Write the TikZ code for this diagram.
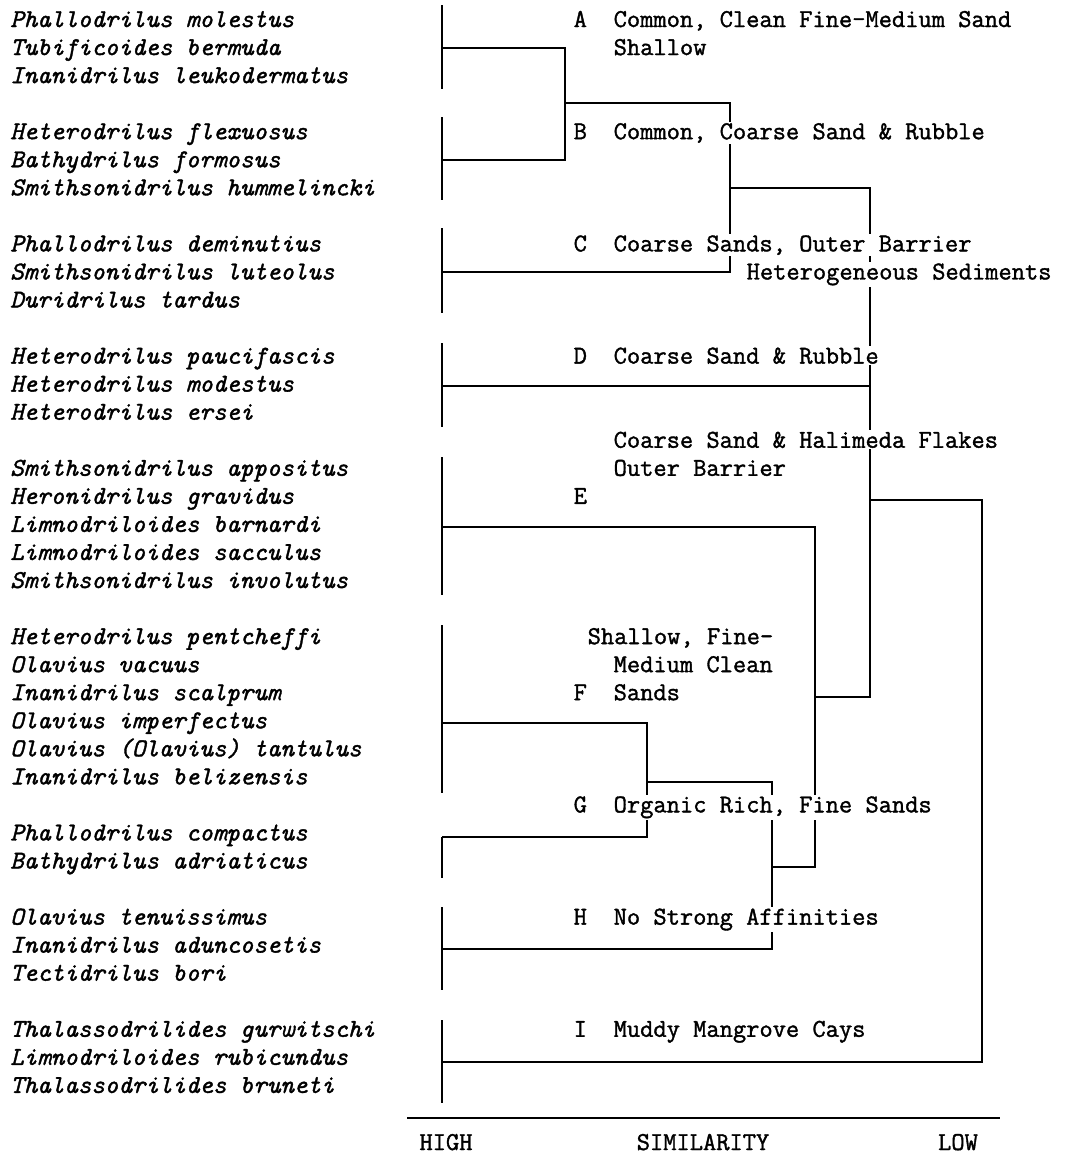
\documentclass[tikz,border=0pt]{standalone}
\usepackage{fontspec}
\newfontfamily\typefont{Latin Modern Mono}[FakeBold=1.4]
\usepackage{tikz}
\usetikzlibrary{positioning}

\tikzset{
    species/.style={anchor=base west, inner sep=0pt,
        font=\typefont\itshape\fontsize{18.3}{22}\selectfont},
    habitat/.style={anchor=base west, inner sep=1pt, fill=white,
        font=\typefont\fontsize{18.3}{22}\selectfont},
    link/.style={line width=1.4pt},
}

\begin{document}
\begin{tikzpicture}[x=0.025cm, y=-0.025cm]
    \useasboundingbox (0,0) rectangle (1078,1160);

    % Species list (line index / name)
    \foreach \i/\sp in {0/Phallodrilus molestus, 1/Tubificoides bermuda,
        2/Inanidrilus leukodermatus, 4/Heterodrilus flexuosus,
        5/Bathydrilus formosus, 6/Smithsonidrilus hummelincki,
        8/Phallodrilus deminutius, 9/Smithsonidrilus luteolus,
        10/Duridrilus tardus, 12/Heterodrilus paucifascis,
        13/Heterodrilus modestus, 14/Heterodrilus ersei,
        16/Smithsonidrilus appositus, 17/Heronidrilus gravidus,
        18/Limnodriloides barnardi, 19/Limnodriloides sacculus,
        20/Smithsonidrilus involutus, 22/Heterodrilus pentcheffi,
        23/Olavius vacuus, 24/Inanidrilus scalprum,
        25/Olavius imperfectus, 26/Olavius (Olavius) tantulus,
        27/Inanidrilus belizensis, 29/Phallodrilus compactus,
        30/Bathydrilus adriaticus, 32/Olavius tenuissimus,
        33/Inanidrilus aduncosetis, 34/Tectidrilus bori,
        36/Thalassodrilides gurwitschi, 37/Limnodriloides rubicundus,
        38/Thalassodrilides bruneti}
        \node[species] (sp\i) at (10, {27+28.05*\i}) {\sp};

    % Group stems
    \foreach \top/\bot in {5/89, 117/200, 228/313, 343/427, 457/595,
        625/793, 837/878, 907/990, 1020/1103}
        \draw[link] (442,\top) -- (442,\bot);

    % Group and join points
    \coordinate (gA) at (442,48);
    \coordinate (gB) at (442,160);
    \coordinate (gC) at (442,272);
    \coordinate (gD) at (442,386);
    \coordinate (gE) at (442,527);
    \coordinate (gF) at (442,723);
    \coordinate (gG) at (442,837);
    \coordinate (gH) at (442,949);
    \coordinate (gI) at (442,1062);
    \coordinate (jAB) at (565,103);
    \coordinate (jABC) at (730,188);
    \coordinate (jAtoH) at (870,500);
    \coordinate (jFG) at (647,782);
    \coordinate (jFGH) at (772,867);
    \coordinate (jEFGH) at (815,697);
    \coordinate (jRoot) at (982,781);

    % Dendrogram
    \draw[link] (gA) -| (jAB) |- (gB);
    \draw[link] (jAB) -| (jABC) |- (gC);
    \draw[link] (jABC) -| (jAtoH) |- (jEFGH);
    \draw[link] (gD) -- (gD -| jAtoH);
    \draw[link] (gE) -| (jEFGH) |- (jFGH);
    \draw[link] (gF) -| (jFG) |- (gG);
    \draw[link] (jFG) -| (jFGH) |- (gH);
    \draw[link] (jAtoH) -| (jRoot) |- (gI);

    % Habitat labels
    \node[habitat] (lA) at (572, {27+28.05*0}) {A};
    \node[habitat] (hA) at (612, {27+28.05*0}) {Common, Clean Fine-Medium Sand};
    \node[habitat] (hA2) at (612, {27+28.05*1}) {Shallow};
    \node[habitat] (lB) at (572, {27+28.05*4}) {B};
    \node[habitat] (hB) at (612, {27+28.05*4}) {Common, Coarse Sand \& Rubble};
    \node[habitat] (lC) at (572, {27+28.05*8}) {C};
    \node[habitat] (hC) at (612, {27+28.05*8}) {Coarse Sands, Outer Barrier};
    \node[habitat] (hC2) at (745, {27+28.05*9}) {Heterogeneous Sediments};
    \node[habitat] (lD) at (572, {27+28.05*12}) {D};
    \node[habitat] (hD) at (612, {27+28.05*12}) {Coarse Sand \& Rubble};
    \node[habitat] (hE) at (612, {27+28.05*15}) {Coarse Sand \& Halimeda Flakes};
    \node[habitat] (hE2) at (612, {27+28.05*16}) {Outer Barrier};
    \node[habitat] (lE) at (572, {27+28.05*17}) {E};
    \node[habitat] (hF) at (586, {27+28.05*22}) {Shallow, Fine-};
    \node[habitat] (hF2) at (612, {27+28.05*23}) {Medium Clean};
    \node[habitat] (lF) at (572, {27+28.05*24}) {F};
    \node[habitat] (hF3) at (612, {27+28.05*24}) {Sands};
    \node[habitat] (lG) at (572, {27+28.05*28}) {G};
    \node[habitat] (hG) at (612, {27+28.05*28}) {Organic Rich, Fine Sands};
    \node[habitat] (lH) at (572, {27+28.05*32}) {H};
    \node[habitat] (hH) at (612, {27+28.05*32}) {No Strong Affinities};
    \node[habitat] (lI) at (572, {27+28.05*36}) {I};
    \node[habitat] (hI) at (612, {27+28.05*36}) {Muddy Mangrove Cays};

    % Similarity axis
    \coordinate (axL) at (407,1118);
    \coordinate (axR) at (1000,1118);
    \draw[link] (axL) -- (axR);
    \node[habitat, anchor=base] (high) at (446,1150) {HIGH};
    \node[habitat, anchor=base] (simil) at (703,1150) {SIMILARITY};
    \node[habitat, anchor=base] (low) at (958,1150) {LOW};
\end{tikzpicture}
\end{document}
